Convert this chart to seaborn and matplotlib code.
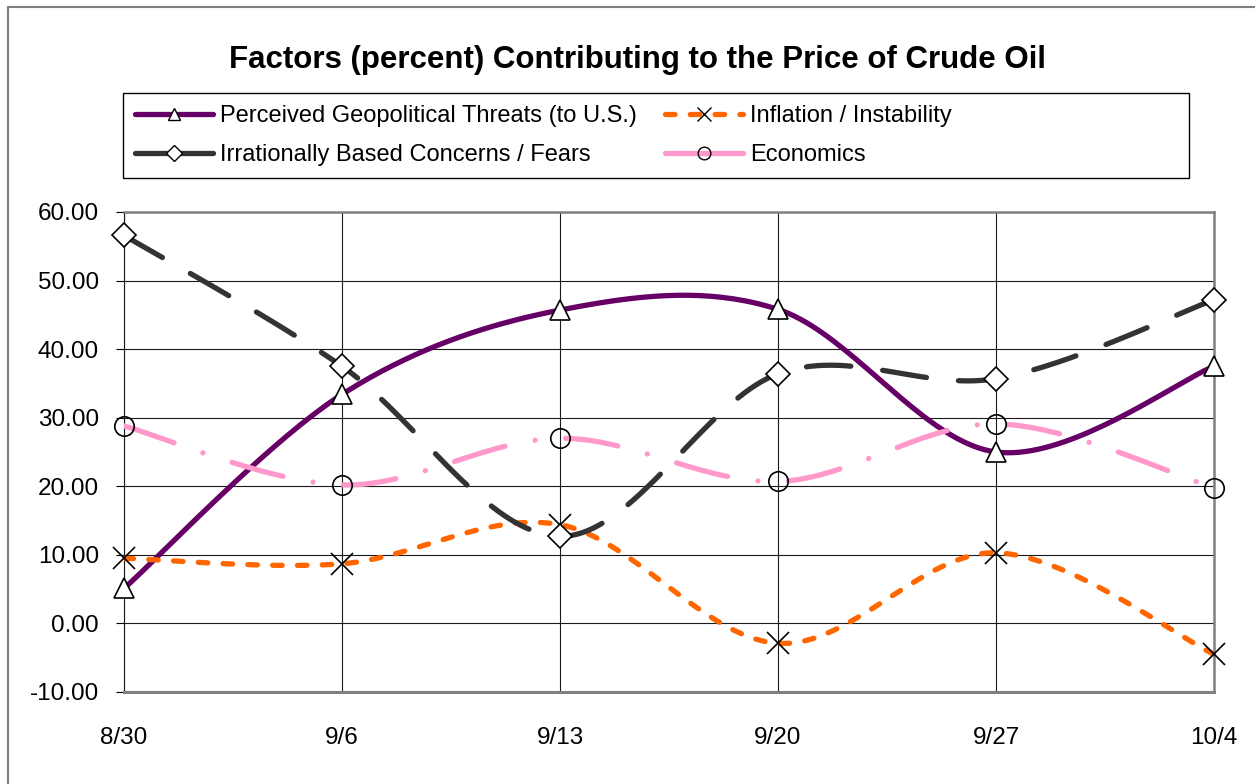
import numpy as np
import matplotlib
matplotlib.use('Agg')
import matplotlib.pyplot as plt
import seaborn as sns
from matplotlib.lines import Line2D
from matplotlib.patches import Rectangle

# Werte
dates = ['8/30', '9/6', '9/13', '9/20', '9/27', '10/4']
geopolitical = [5.1, 33.4, 45.7, 45.8, 25.0, 37.5]
inflation = [9.5, 8.7, 14.4, -2.9, 10.3, -4.5]
irrational = [56.6, 37.5, 12.7, 36.4, 35.7, 47.2]
economics = [28.8, 20.2, 27.0, 20.7, 29.1, 19.8]

labels = ['Perceived Geopolitical Threats (to U.S.)', 'Inflation / Instability',
          'Irrationally Based Concerns / Fears', 'Economics']
colors = ['#660066', '#FF6600', '#333333', '#FF99CC']


def smooth(values, n=40):
    # Bezier-Glaettung wie in Excel (Catmull-Rom)
    pts = np.column_stack([np.arange(len(values), dtype=float), np.asarray(values, float)])
    ext = np.vstack([pts[0], pts, pts[-1]])
    t = np.linspace(0, 1, n)[:, None]
    out = []
    for i in range(len(pts) - 1):
        p0, p3 = ext[i + 1], ext[i + 2]
        b1 = p0 + (ext[i + 2] - ext[i]) / 6
        b2 = p3 - (ext[i + 3] - ext[i + 1]) / 6
        seg = (1 - t) ** 3 * p0 + 3 * (1 - t) ** 2 * t * b1 + 3 * (1 - t) * t ** 2 * b2 + t ** 3 * p3
        out.append(seg if i == 0 else seg[1:])
    s = np.vstack(out)
    return s[:, 0], s[:, 1]


sns.set_style('white')
plt.rcParams['font.family'] = ['Liberation Sans', 'DejaVu Sans']
plt.rcParams['text.color'] = 'black'
plt.rcParams['xtick.color'] = 'black'
plt.rcParams['ytick.color'] = 'black'

fig = plt.figure(figsize=(12.55, 7.84), dpi=100)
ax = fig.add_axes([124 / 1255, 1 - 692 / 784, 1090 / 1255, 480 / 784])

lw = 3.8
styles = [
    dict(ls='-', leg_ls='-', marker='^', ms=14, mfc='white', mec='black'),
    dict(ls=(0, (1.8, 2.9)), leg_ls=(0, (1.8, 2.9)), marker='x', ms=16, mfc='none', mec='black'),
    dict(ls=(0, (8.4, 6.1)), leg_ls='-', marker='D', ms=12, mfc='white', mec='black'),
    dict(ls=(0, (10, 5.8, 0.01, 5.8)), leg_ls='-', marker='o', ms=14, mfc='none', mec='black'),
]
series = [geopolitical, inflation, irrational, economics]
x = np.arange(len(dates))

handles = []
for k, (vals, col, st) in enumerate(zip(series, colors, styles)):
    sx, sy = smooth(vals)
    sns.lineplot(x=sx, y=sy, ax=ax, color=col, lw=lw, sort=False, estimator=None,
                 linestyle=st['ls'], dash_capstyle='round', solid_capstyle='round',
                 zorder=3 + 2 * k)
    ax.plot(x, vals, linestyle='none', marker=st['marker'], ms=st['ms'],
            mfc=st['mfc'], mec=st['mec'], mew=1.2, zorder=4 + 2 * k, clip_on=False)
    handles.append(Line2D([], [], color=col, lw=lw, linestyle=st['leg_ls'],
                          dash_capstyle='round', solid_capstyle='round',
                          marker=st['marker'], ms=st['ms'] * 0.65,
                          mfc=st['mfc'], mec=st['mec'], mew=1.0))

ax.set_xlim(0, 5)
ax.set_ylim(-10, 60)
ax.set_xticks(x)
ax.set_xticklabels(dates)
ax.set_yticks(np.arange(-10, 61, 10))
ax.yaxis.set_major_formatter(matplotlib.ticker.FormatStrFormatter('%.2f'))
ax.tick_params(axis='y', length=6, width=0.8, color='black', direction='out', pad=12, labelsize=17.5, left=True)
ax.tick_params(axis='x', length=0, pad=25, labelsize=17.5)
ax.grid(True, color='#1a1a1a', lw=0.8)
ax.set_axisbelow(True)
ax.set_xlabel('')
ax.set_ylabel('')
for side in ['top', 'right']:
    ax.spines[side].set_color('#808080')
    ax.spines[side].set_linewidth(1.8)
ax.spines['bottom'].set_color('#808080')
ax.spines['bottom'].set_linewidth(2.2)
ax.spines['left'].set_color('#1a1a1a')
ax.spines['left'].set_linewidth(0.8)

fig.text(638 / 1255, 1 - 60 / 784, 'Factors (percent) Contributing to the Price of Crude Oil',
         ha='center', va='center', fontsize=22.5, fontweight='bold')

# Legendenrahmen und zwei Spalten
fig.add_artist(Rectangle((123 / 1255, 1 - 178 / 784), 1066 / 1255, 85 / 784,
                         transform=fig.transFigure, fill=False, ec='black', lw=1.0))
ymid = 1 - 135.5 / 784
for cols, xpos in [((0, 2), 135 / 1255), ((1, 3), 665 / 1255)]:
    leg = fig.legend([handles[i] for i in cols], [labels[i] for i in cols],
                     loc='center left', bbox_to_anchor=(xpos, ymid), frameon=False,
                     fontsize=17, handlelength=3.3, handletextpad=0.3,
                     labelspacing=0.7, borderpad=0, borderaxespad=0)

# aeusserer Rahmen
fig.add_artist(Rectangle((8 / 1255, -0.1), 1.2, 1.1 - 7 / 784,
                         transform=fig.transFigure, fill=False, ec='#808080', lw=1.5))

fig.savefig('out.png', dpi=100)
